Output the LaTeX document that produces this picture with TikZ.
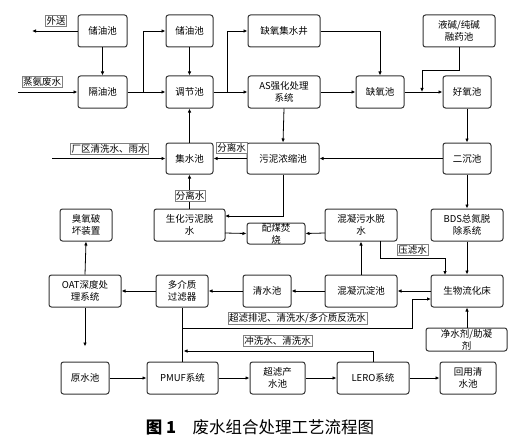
\documentclass[tikz,border=0pt]{standalone}
\usepackage{fontspec}
\setmainfont{Noto Sans CJK SC}
\usetikzlibrary{arrows.meta}
\begin{document}
\begin{tikzpicture}[x=1pt,y=-1pt,
 box/.style={draw=black!80, line width=1pt, rounded corners=2.5pt, fill=white, inner sep=0pt, align=center, minimum height=32pt, font=\fontsize{9.5}{12}\selectfont},
 lbl/.style={draw=black!50, line width=0.5pt, fill=white, inner sep=1pt, font=\fontsize{9.5}{11}\selectfont},
 arr/.style={-{Latex[length=4pt,width=3.5pt]}, line width=0.8pt},
 ln/.style={line width=0.8pt}]
\useasboundingbox (0,0) rectangle (521,441);
% row 1
\node[box, minimum width=49pt] (cy1) at (102.5,31) {储油池};
\node[box, minimum width=47pt] (cy2) at (189.5,31) {储油池};
\node[box, minimum width=72pt] (qy) at (284,31) {缺氧集水井};
\node[box, minimum width=72pt] (yj) at (459,31) {液碱/纯碱\\融药池};
% row 2
\node[box, minimum width=49pt] (gy) at (102.5,92) {隔油池};
\node[box, minimum width=47pt] (tj) at (189.5,92) {调节池};
\node[box, minimum width=72pt] (as) at (284,92) {AS强化处理\\系统};
\node[box, minimum width=48pt] (qyc) at (380,92) {缺氧池};
\node[box, minimum width=48pt] (hy) at (467,92) {好氧池};
% row 3
\node[box, minimum width=47pt, minimum height=31pt] (jsc) at (189.5,158.5) {集水池};
\node[box, minimum width=72pt, minimum height=31pt] (wn) at (283,158.5) {污泥浓缩池};
\node[box, minimum width=48pt, minimum height=31pt] (ec) at (467,158.5) {二沉池};
% row 4
\node[box, minimum width=52pt] (ch) at (86,225) {臭氧破\\坏装置};
\node[box, minimum width=71pt] (sh) at (189.5,225) {生化污泥脱\\水};
\node[box, minimum width=58pt, minimum height=21pt] (pm) at (276,233.5) {};
\node[font=\fontsize{9.5}{12}\selectfont, align=center, inner sep=0pt] (pmt) at (pm.center) {配煤焚\\烧};
\node[box, minimum width=72pt] (hn) at (361,225) {混凝污水脱\\水};
\node[box, minimum width=72pt] (bds) at (467,225) {BDS总氮脱\\除系统};
% row 5
\node[box, minimum width=72pt] (oat) at (85,291) {OAT深度处\\理系统};
\node[box, minimum width=52pt] (dj) at (182,291) {多介质\\过滤器};
\node[box, minimum width=48pt] (qs) at (267,291) {清水池};
\node[box, minimum width=72pt] (hc) at (361,291) {混凝沉淀池};
\node[box, minimum width=72pt] (sw) at (467,291) {生物流化床};
\node[box, minimum width=81pt, minimum height=23pt] (js) at (466.5,339.5) {};
\node[font=\fontsize{9.5}{12}\selectfont, align=center, inner sep=0pt] (jst) at (js.center) {净水剂/助凝\\剂};
% row 6
\node[box, minimum width=48pt] (ys) at (85,378) {原水池};
\node[box, minimum width=71pt] (pmuf) at (182.5,378) {PMUF系统};
\node[box, minimum width=55pt] (cl) at (277.5,378) {超滤产\\水池};
\node[box, minimum width=72pt] (lero) at (373,378) {LERO系统};
\node[box, minimum width=56pt] (hyc) at (468,378) {回用清\\水池};
% caption
\node[font=\fontsize{16.5}{18}\selectfont, inner sep=0pt] (cap) at (260,427) {\textbf{图 1}\quad 废水组合处理工艺流程图};

% connectors
\coordinate (wsend) at (32,31);
\draw[arr] (cy1.west) -- (wsend);
\node[lbl] (lws) at (56,21) {外送};
\coordinate (zaS) at (18,92);
\draw[arr] (zaS) -- (gy.west);
\node[lbl] (lza) at (42,82) {蒸氨废水};
\draw[arr] (cy1.south) -- (gy.north);
\draw[arr] (gy.east) -- (tj.west);
\coordinate (b1) at (143,92);
\draw[arr] (b1) |- (cy2.west);
\draw[arr] (cy2.south) -- (tj.north);
\draw[arr] (tj.east) -- (as.west);
\coordinate (b2) at (227,92);
\draw[arr] (b2) |- (qy.west);
\draw[arr] (qy.east) -| (qyc.north);
\draw[arr] (as.east) -- (qyc.west);
\draw[arr] (qyc.east) -- (hy.west);
\coordinate (yjm) at (422,92);
\draw[arr] (yj.south) -- ++(0,23) -| (yjm);
\draw[arr] (as.south) -- (wn.north);
\draw[arr] (hy.south) -- (ec.north);
\draw[arr] (ec.west) -- (wn.east);
\draw[arr] (wn.west) -- (jsc.east);
\node[lbl] (lfl1) at (231.5,148) {分离水};
\coordinate (cqS) at (52,158.5);
\draw[arr] (cqS) -- (jsc.west);
\node[lbl] (lcq) at (109.5,148.5) {厂区清洗水、雨水};
\draw[arr] (jsc.north) -- (tj.south);
\draw[arr] (sh.north) -- (jsc.south);
\node[lbl] (lfl2) at (190,195.5) {分离水};
\coordinate (shin) at (225,216);
\draw[arr] (wn.south) |- (shin);
\coordinate (shout) at (225,233);
\draw[arr] (shout) -- (pm.west);
\coordinate (hnout) at (325,233);
\draw[arr] (hnout) -- (pm.east);
\draw[arr] (ec.south) -- (bds.north);
\draw[arr] (bds.south) -- (bds.south |- sw.north);
\coordinate (hnb) at (380,241);
\coordinate (swa) at (445,275);
\draw[arr] (hnb) -- (380,258) -| (swa);
\node[lbl] (lyl) at (412.5,249.5) {压滤水};
\draw[arr] (hc.north) -- (hn.south);
\draw[arr] (sw.west) -- (hc.east);
\draw[arr] (hc.west) -- (qs.east);
\draw[arr] (qs.west) -- (dj.east);
\draw[arr] (dj.west) -- (oat.east);
\draw[arr] (oat.north) -- (ch.south);
\draw[arr, shorten >=15pt] (oat.south) -- (ys.north);
\draw[arr] (js.north -| sw.south) -- (sw.south);
\draw[arr] (ys.east) -- (pmuf.west);
\draw[arr] (pmuf.east) -- (cl.west);
\draw[arr] (cl.east) -- (lero.west);
\draw[arr] (lero.east) -- (hyc.west);
\draw[ln] (dj.south -| pmuf.north) -- (pmuf.north);
\coordinate (b3) at (182.5,328);
\coordinate (swb) at (431,299);
\draw[arr] (b3) -- (412,328) |- (swb);
\node[lbl] (lcl) at (297.5,318.5) {超滤排泥、清洗水/多介质反洗水};
\coordinate (b4) at (183.5,351);
\draw[arr] (lero.north) |- (b4);
\node[lbl] (lcx) at (277.5,340.5) {冲洗水、清洗水};
\end{tikzpicture}
\end{document}
